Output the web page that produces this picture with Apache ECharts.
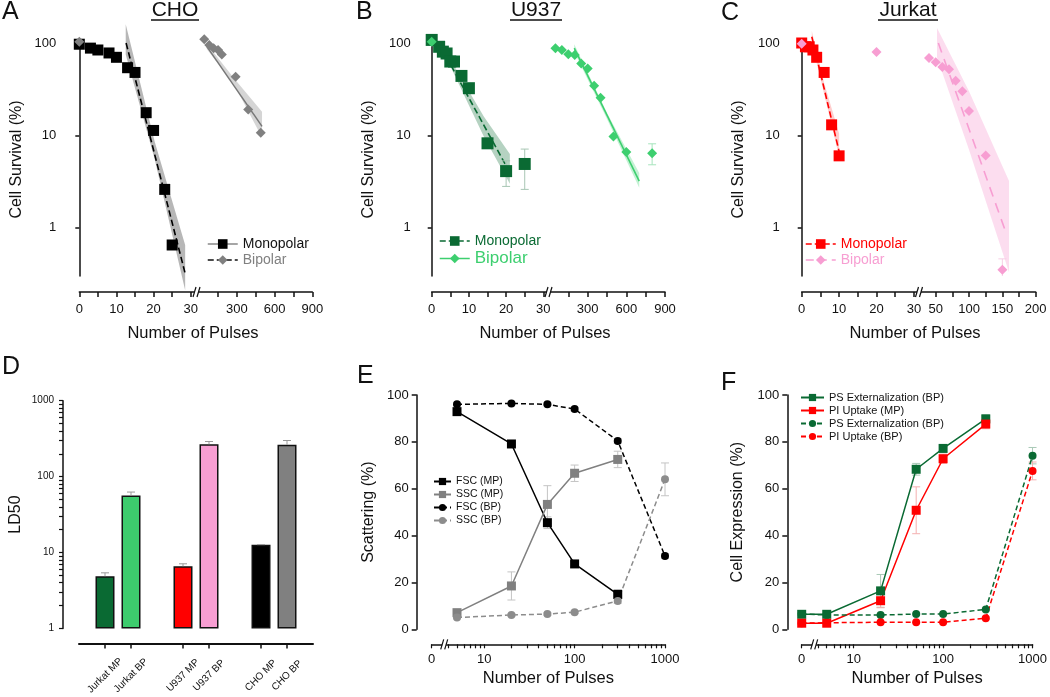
<!DOCTYPE html>
<html><head><meta charset="utf-8">
<script src="https://cdn.jsdelivr.net/npm/echarts@6/dist/echarts.min.js"></script>
<style>html,body{margin:0;padding:0;background:#fff}#c{width:1050px;height:697px}</style>
</head><body><div id="c"></div><script>
const FONT = "'Liberation Sans', Arial, Helvetica, sans-serif";

// ---------- Panel A : CHO ----------
const choMonoX = [0, 3, 5, 8, 10, 13, 15, 18, 20, 23, 25];
const choMonoY = [97, 88, 84, 78, 70, 54, 48, 17.6, 11.3, 2.6, 0.65];
const choBiLowX = [0];
const choBiLowY = [103];
const choBiX = [40, 80, 115, 150, 180, 290, 390, 490];
const choBiY = [110, 95, 88, 84, 75, 43, 19, 10.7];
const choMonoFit = [[12.6, 100], [28.5, 0.32]];
const choMonoBandHi = [[12.5, 160], [20.3, 8.5], [28.5, 0.65]];
const choMonoBandLo = [[12.5, 75], [20.3, 5.5], [28.5, 0.21]];
const choBiFit = [[60, 92], [500, 12.5]];
const choBiBandHi = [[60, 98], [280, 41], [500, 18]];
const choBiBandLo = [[60, 86], [280, 35], [500, 9.5]];

// ---------- Panel B : U937 ----------
const u937MonoX = [0, 2, 3, 4, 5, 6, 8, 10, 15, 20, 25];
const u937MonoY = [108, 91, 80.6, 77, 63, 63, 44, 32.4, 8.2, 4.1, 4.9];
const u937MonoErr = [[20, 2.8, 5.3], [25, 2.6, 7.1]];
const u937BiLowX = [0];
const u937BiLowY = [103];
const u937BiX = [50, 100, 150, 200, 250, 300, 350, 400, 500, 600, 800];
const u937BiY = [87.6, 84, 75.5, 74, 60, 53, 34.5, 25.6, 9.7, 6.6, 6.4];
const u937BiErr = [[800, 4.8, 8.1]];
const u937MonoFit = [[4, 70], [20.5, 4.3]];
const u937MonoBandHi = [[4.5, 72], [14, 16], [21, 6.3]];
const u937MonoBandLo = [[4.5, 62], [14, 9.7], [21, 3.0]];
const u937BiFit = [[196, 88], [700, 3.2]];
const u937BiBandHi = [[196, 97], [450, 17.5], [700, 3.9]];
const u937BiBandLo = [[196, 80], [450, 15], [700, 2.7]];

// ---------- Panel C : Jurkat ----------
const jurMonoX = [0, 1, 2, 3, 4, 6, 8, 10];
const jurMonoY = [100, 91, 91, 84, 70, 48, 13, 6.0];
const jurBiLowX = [0, 20];
const jurBiLowY = [98, 80];
const jurBiX = [40, 50, 60, 70, 80, 90, 100, 125, 150];
const jurBiY = [69, 62, 55, 52, 39, 30, 18.4, 6.05, 0.35];
const jurBiErr = [[150, 0.24, 0.46]];
const jurMonoFit = [[2.7, 117], [10, 6.7]];
const jurMonoBandHi = [[2.7, 135], [6, 37], [10, 10.5]];
const jurMonoBandLo = [[2.7, 100], [6, 28], [10, 5.9]];
const jurBiFit = [[54, 100], [155.5, 0.88]];
const jurBiBandHi = [[52, 145], [100, 30], [160, 3.2]];
const jurBiBandLo = [[52, 70], [100, 7], [160, 0.33]];

// ---------- Panel D : LD50 ----------
const ld50Labels = ['Jurkat MP', 'Jurkat BP', 'U937 MP', 'U937 BP', 'CHO MP', 'CHO BP'];
const ld50Values = [4.87, 56.5, 6.6, 267, 12.7, 262];
const ld50ErrHi = [5.4, 62.6, 7.1, 290, 12.7, 299];
const ld50Colors = ['#0a6a33', '#3dcb6d', '#ff0000', '#f79ed2', '#000000', '#808080'];

// ---------- Panel E : Scattering ----------
const ePulses = [5, 20, 50, 100, 300, 1000];
const fscMP = [92.9, 79.1, 45.5, 27.9, 14.9];
const sscMP = [7.1, 18.5, 53.3, 66.6, 72.5];
const fscBP = [96, 96.4, 96, 94, 80.4, 31.3];
const sscBP = [5, 6.1, 6.5, 7.3, 12.1, 64];
const fscMPErr = [1, 1, 2.5, 1, 2];
const sscMPErr = [1, 6, 8, 3.5, 3.5];
const fscBPErr = [0.5, 0.5, 0.5, 0.8, 1, 1];
const sscBPErr = [0.5, 0.5, 0.5, 0.5, 1, 7];

// ---------- Panel F : Cell expression ----------
const fPulses = [0, 5, 20, 50, 100, 300, 1000];
const psMP = [6.4, 6.4, 16.4, 68.3, 77.2, 89.8];
const piMP = [2.6, 2.6, 12.2, 50.8, 72.8, 87.6];
const psBP = [6.5, 6.1, 6.1, 6.5, 6.5, 8.5, 74.1];
const piBP = [2.6, 2.8, 3, 3, 3, 4.7, 67.6];
const psMPErr = [0.5, 0.5, 7, 2.5, 1.5, 1.8];
const piMPErr = [0.5, 0.5, 3, 10, 2, 2];
const psBPErr = [0.3, 0.3, 0.3, 0.3, 0.3, 0.5, 3.5];
const piBPErr = [0.3, 0.3, 0.3, 0.3, 0.3, 0.5, 3.8];

// tick values
const segLeftTicks = [0, 5, 10, 15, 20, 25, 30];
const segLeftLabels = [0, 10, 20, 30];
const seg900Ticks = [150, 300, 450, 600, 750, 900];
const seg900Labels = [300, 600, 900];
const seg200Ticks = [50, 75, 100, 125, 150, 175, 200];
const seg200Labels = [50, 100, 150, 200];
const survTicks = [1, 10, 100];
const ld50Ticks = [1,2,3,4,5,6,7,8,9,10,20,30,40,50,60,70,80,90,100,200,300,400,500,600,700,800,900,1000];
const ld50TickLabels = [1, 10, 100, 1000];
const ZERO = 2.624; // break position that stands for "0 pulses" on the log axes
const logLabels = [ZERO, 10, 100, 1000];
const logTicks = [ZERO,4,5,6,7,8,9,10,20,30,40,50,60,70,80,90,100,200,300,400,500,600,700,800,900,1000];

// ---------- helpers ----------
const AX = '#111';
const pairs = (xs, ys) => xs.map((x, i) => [x, ys[i]]);
const fx = x => (x === 0 ? ZERO : x);

function pts(name, xi, yi, xs, ys, symbol, size, color) {
  return { type: 'line', name, xAxisIndex: xi, yAxisIndex: yi, data: pairs(xs, ys), symbol, symbolSize: size,
    showSymbol: true, lineStyle: { width: 0 }, itemStyle: { color }, clip: false, z: 5, silent: true };
}
function fit(xi, yi, data, color, type, width) {
  return { type: 'line', xAxisIndex: xi, yAxisIndex: yi, data, symbol: 'none', showSymbol: false,
    lineStyle: { color, type, width }, clip: false, z: 3, silent: true };
}
function band(xi, yi, hi, lo, color) {
  return { type: 'custom', xAxisIndex: xi, yAxisIndex: yi, data: [hi[0]], clip: false, silent: true, z: 1,
    renderItem: (params, api) => {
      const p = hi.map(v => api.coord(v)).concat(lo.slice().reverse().map(v => api.coord(v)));
      return { type: 'polygon', shape: { points: p }, style: { fill: color } };
    } };
}
function errs(xi, yi, rows, color, cap, lowCap, clip) {
  return { type: 'custom', xAxisIndex: xi, yAxisIndex: yi, data: rows, clip: clip, silent: true, z: 4,
    renderItem: (params, api) => {
      const x = api.value(0), lo = api.value(1), hi = api.value(2);
      const a = api.coord([x, lo]), b = api.coord([x, hi]);
      const st = { stroke: color, lineWidth: 1 };
      const ch = [
        { type: 'line', shape: { x1: a[0], y1: a[1], x2: b[0], y2: b[1] }, style: st },
        { type: 'line', shape: { x1: b[0] - cap, y1: b[1], x2: b[0] + cap, y2: b[1] }, style: st }];
      if (lowCap) ch.push({ type: 'line', shape: { x1: a[0] - cap, y1: a[1], x2: a[0] + cap, y2: a[1] }, style: st });
      return { type: 'group', children: ch };
    } };
}
const symErr = (xs, ys, es) => ys.map((y, i) => [fx(xs[i]), y - es[i], y + es[i]]);

// ---------- axes ----------
function segX(grid, min, max, ticks, labels) {
  return { type: 'value', gridIndex: grid, min, max, position: 'bottom', offset: 16,
    axisLine: { show: true, onZero: false, lineStyle: { color: AX, width: 1.5 } },
    axisTick: { show: true, length: 5, customValues: ticks, lineStyle: { color: AX, width: 1.5 } },
    axisLabel: { customValues: labels, margin: 11, fontSize: 13, color: AX, fontFamily: FONT },
    splitLine: { show: false } };
}
function survY(grid, show, offset, gap) {
  return { type: 'log', logBase: 10, gridIndex: grid, min: 0.3, max: 100, show, offset, position: 'left',
    axisLine: { show: true, lineStyle: { color: AX, width: 1.5 } },
    axisTick: { show: true, length: 4, customValues: survTicks, lineStyle: { color: AX, width: 1.5 } },
    axisLabel: { customValues: survTicks, margin: 7, fontSize: 13, color: AX, fontFamily: FONT },
    splitLine: { show: false },
    name: show ? 'Cell Survival (%)' : '', nameLocation: 'middle', nameGap: gap,
    nameTextStyle: { fontSize: 16, color: AX, fontFamily: FONT } };
}
function logX(grid) {
  return { type: 'log', logBase: 10, gridIndex: grid, min: ZERO, max: 1000, position: 'bottom', offset: 15,
    axisLine: { show: true, onZero: false, lineStyle: { color: AX, width: 1.5 } },
    axisTick: { show: true, length: 4, customValues: logTicks, lineStyle: { color: AX, width: 1.2 } },
    axisLabel: { customValues: logLabels, margin: 9, fontSize: 13, color: AX, fontFamily: FONT,
      formatter: v => (v < 5 ? '0' : String(Math.round(v))) },
    splitLine: { show: false },
    name: 'Number of Pulses', nameLocation: 'middle', nameGap: 26,
    nameTextStyle: { fontSize: 16.5, color: AX, fontFamily: FONT } };
}
function pctY(grid, offset, name, gap) {
  return { type: 'value', gridIndex: grid, min: 0, max: 100, interval: 20, position: 'left', offset,
    axisLine: { show: true, lineStyle: { color: AX, width: 1.5 } },
    axisTick: { show: true, length: 5, lineStyle: { color: AX, width: 1.5 } },
    axisLabel: { margin: 8, fontSize: 13, color: AX, fontFamily: FONT },
    splitLine: { show: false },
    name, nameLocation: 'middle', nameGap: gap, nameTextStyle: { fontSize: 16, color: AX, fontFamily: FONT } };
}

const dCats = ['', ld50Labels[0], ld50Labels[1], ' ', ld50Labels[2], ld50Labels[3], '  ', ld50Labels[4], ld50Labels[5], '   '];

const xAxes = [
  segX(0, 0, 30.8, segLeftTicks, segLeftLabels),      // 0 A left
  segX(1, 0, 900, seg900Ticks, seg900Labels),         // 1 A right
  segX(2, 0, 30.8, segLeftTicks, segLeftLabels),      // 2 B left
  segX(3, 0, 900, seg900Ticks, seg900Labels),         // 3 B right
  segX(4, 0, 30.8, segLeftTicks, segLeftLabels),      // 4 C left
  segX(5, 28, 200, seg200Ticks, seg200Labels),        // 5 C right
  { type: 'category', gridIndex: 6, data: dCats, boundaryGap: false, position: 'bottom', offset: 15,
    axisLine: { show: true, onZero: false, lineStyle: { color: AX, width: 2 } },
    axisTick: { show: true, length: 5, interval: (i, v) => v.trim() !== '', lineStyle: { color: AX, width: 1.5 } },
    axisLabel: { interval: 0, rotate: 45, align: 'center', verticalAlign: 'middle', margin: 32, fontSize: 10, color: AX, fontFamily: FONT },
    splitLine: { show: false } },                      // 6 D
  logX(7),                                            // 7 E
  logX(8)                                             // 8 F
];
const yAxes = [
  survY(0, true, 16, 39),   // 0 A
  survY(1, false, 0, 0),    // 1 A right
  survY(2, true, 14, 41),   // 2 B
  survY(3, false, 0, 0),    // 3 B right
  survY(4, true, 15, 40),   // 4 C
  survY(5, false, 0, 0),    // 5 C right
  { type: 'log', logBase: 10, gridIndex: 6, min: 1, max: 1000, position: 'left', offset: 16,
    axisLine: { show: true, lineStyle: { color: AX, width: 1.5 } },
    axisTick: { show: true, length: 4, customValues: ld50Ticks, lineStyle: { color: AX, width: 1.2 } },
    axisLabel: { customValues: ld50TickLabels, margin: 9, fontSize: 10, color: AX, fontFamily: FONT,
      formatter: v => String(Math.round(v)) },
    splitLine: { show: false },
    name: 'LD50', nameLocation: 'middle', nameGap: 39, nameTextStyle: { fontSize: 16, color: AX, fontFamily: FONT } }, // 6 D
  pctY(7, 15, 'Scattering (%)', 40),       // 7 E
  pctY(8, 14.4, 'Cell Expression (%)', 42) // 8 F
];

const grids = [
  { left: 79.3, top: 43, width: 114.4, height: 233 },
  { left: 199.2, top: 43, width: 113.1, height: 233 },
  { left: 431.7, top: 43, width: 114.6, height: 233 },
  { left: 549, top: 43, width: 116, height: 233 },
  { left: 801.7, top: 43, width: 115.2, height: 233 },
  { left: 921, top: 43, width: 114.7, height: 233 },
  { left: 79, top: 400.7, width: 234, height: 228.3 },
  { left: 431.7, top: 395, width: 233.3, height: 234.3 },
  { left: 801.7, top: 395, width: 233.3, height: 234.3 }
];

// ---------- series ----------
const GRAY = '#808080', DKG = '#0a6a33', LTG = '#3dcf6f', RED = '#ff0000', PINK = '#f79ed2';
const S = [];
// A
S.push(band(0, 0, choMonoBandHi, choMonoBandLo, 'rgba(95,95,95,0.45)'));
S.push(band(1, 1, choBiBandHi, choBiBandLo, 'rgba(150,150,150,0.4)'));
S.push(fit(0, 0, choMonoFit, '#000', 'dashed', 1.6));
S.push(fit(1, 1, choBiFit, '#777', 'solid', 1.5));
S.push(pts('A|Monopolar', 0, 0, choMonoX, choMonoY, 'rect', 11, '#000'));
S.push(pts('A|BipolarLow', 0, 0, choBiLowX, choBiLowY, 'diamond', 10, GRAY));
S.push(pts('A|Bipolar', 1, 1, choBiX, choBiY, 'diamond', 10, GRAY));
// B
S.push(band(2, 2, u937MonoBandHi, u937MonoBandLo, 'rgba(10,106,51,0.3)'));
S.push(band(3, 3, u937BiBandHi, u937BiBandLo, 'rgba(61,207,111,0.3)'));
S.push(fit(2, 2, u937MonoFit, DKG, 'dashed', 1.6));
S.push(fit(3, 3, u937BiFit, LTG, 'solid', 1.6));
S.push(errs(2, 2, u937MonoErr, '#a8c6b4', 4, true, true));
S.push(errs(3, 3, u937BiErr, '#a6e4bd', 4, true, true));
S.push(pts('B|Monopolar', 2, 2, u937MonoX, u937MonoY, 'rect', 12, DKG));
S.push(pts('B|BipolarLow', 2, 2, u937BiLowX, u937BiLowY, 'diamond', 10, LTG));
S.push(pts('B|Bipolar', 3, 3, u937BiX, u937BiY, 'diamond', 10, LTG));
// C
S.push(band(4, 4, jurMonoBandHi, jurMonoBandLo, 'rgba(255,90,90,0.3)'));
S.push(band(5, 5, jurBiBandHi, jurBiBandLo, 'rgba(247,158,210,0.35)'));
S.push(fit(4, 4, jurMonoFit, RED, 'dashed', 1.6));
S.push(fit(5, 5, jurBiFit, PINK, [10, 7], 1.6));
S.push(errs(5, 5, jurBiErr, '#f7cfe5', 4, true, true));
S.push(pts('C|Monopolar', 4, 4, jurMonoX, jurMonoY, 'rect', 11, RED));
S.push(pts('C|BipolarLow', 4, 4, jurBiLowX, jurBiLowY, 'diamond', 10, PINK));
S.push(pts('C|Bipolar', 5, 5, jurBiX, jurBiY, 'diamond', 10, PINK));
// D
const ld50Data = dCats.map(c => {
  const k = ld50Labels.indexOf(c);
  return k < 0 ? '-' : { value: ld50Values[k], itemStyle: { color: ld50Colors[k] } };
});
S.push({ type: 'bar', xAxisIndex: 6, yAxisIndex: 6, data: ld50Data, barWidth: 19, silent: true,
  itemStyle: { borderColor: '#111', borderWidth: 1.5 } });
S.push(errs(6, 6, ld50Labels.map((c, k) => [dCats.indexOf(c), ld50Values[k], ld50ErrHi[k]]), '#999', 4, false, false));
// E
const eLine = (name, ys, color, dashed, sym) => ({ type: 'line', name, xAxisIndex: 7, yAxisIndex: 7,
  data: pairs(ePulses.slice(0, ys.length), ys), symbol: sym, symbolSize: sym === 'rect' ? 9 : 8, showSymbol: true,
  lineStyle: { color, width: 1.5, type: dashed ? [5, 3] : 'solid' }, itemStyle: { color }, z: 5, silent: true });
S.push(errs(7, 7, symErr(ePulses, fscMP, fscMPErr), '#c4c4c4', 4, true, false));
S.push(errs(7, 7, symErr(ePulses, sscMP, sscMPErr), '#c4c4c4', 4, true, false));
S.push(errs(7, 7, symErr(ePulses, fscBP, fscBPErr), '#c4c4c4', 4, true, false));
S.push(errs(7, 7, symErr(ePulses, sscBP, sscBPErr), '#c4c4c4', 4, true, false));
S.push(eLine('E1|FSC (MP)', fscMP, '#000', false, 'rect'));
S.push(eLine('E2|SSC (MP)', sscMP, GRAY, false, 'rect'));
S.push(eLine('E3|FSC (BP)', fscBP, '#000', true, 'circle'));
S.push(eLine('E4|SSC (BP)', sscBP, '#8c8c8c', true, 'circle'));
// F
const fLine = (name, ys, color, dashed, sym) => ({ type: 'line', name, xAxisIndex: 8, yAxisIndex: 8,
  data: ys.map((y, i) => [fx(fPulses[i]), y]), symbol: sym, symbolSize: sym === 'rect' ? 9 : 8, showSymbol: true,
  lineStyle: { color, width: 1.5, type: dashed ? [5, 3] : 'solid' }, itemStyle: { color }, z: 5, silent: true });
S.push(errs(8, 8, symErr(fPulses, psMP, psMPErr), '#a9c9b6', 4, true, false));
S.push(errs(8, 8, symErr(fPulses, piMP, piMPErr), '#f4b0b0', 4, true, false));
S.push(errs(8, 8, symErr(fPulses, psBP, psBPErr), '#a9c9b6', 4, true, false));
S.push(errs(8, 8, symErr(fPulses, piBP, piBPErr), '#f4b0b0', 4, true, false));
S.push(fLine('F1|PS Externalization (BP)', psMP, DKG, false, 'rect'));
S.push(fLine('F2|PI Uptake (MP)', piMP, RED, false, 'rect'));
S.push(fLine('F3|PS Externalization (BP)', psBP, DKG, true, 'circle'));
S.push(fLine('F4|PI Uptake (BP)', piBP, RED, true, 'circle'));

// ---------- legends ----------
const fmt = n => n.split('|')[1];
const legBase = { orient: 'vertical', selectedMode: false, formatter: fmt, padding: 0 };
const legends = [
  Object.assign({}, legBase, { left: 207, top: 237, itemWidth: 30, itemHeight: 12, itemGap: 2,
    textStyle: { fontSize: 14, fontFamily: FONT },
    data: [
      { name: 'A|Monopolar', lineStyle: { color: '#888', type: 'solid', width: 1.5 }, textStyle: { color: '#111' } },
      { name: 'A|Bipolar', lineStyle: { color: '#111', type: 'dashed', width: 1.5 }, textStyle: { color: GRAY } }] }),
  Object.assign({}, legBase, { left: 439, top: 234, itemWidth: 30, itemHeight: 12, itemGap: 2,
    textStyle: { fontSize: 14, fontFamily: FONT },
    data: [
      { name: 'B|Monopolar', lineStyle: { color: DKG, type: 'dashed', width: 1.5 }, textStyle: { color: DKG } },
      { name: 'B|Bipolar', lineStyle: { color: LTG, type: 'solid', width: 1.5 }, textStyle: { color: LTG, fontSize: 17 } }] }),
  Object.assign({}, legBase, { left: 805, top: 237, itemWidth: 30, itemHeight: 12, itemGap: 2,
    textStyle: { fontSize: 14, fontFamily: FONT },
    data: [
      { name: 'C|Monopolar', lineStyle: { color: RED, type: 'dashed', width: 1.5 }, textStyle: { color: RED } },
      { name: 'C|Bipolar', lineStyle: { color: PINK, type: [8, 5], width: 1.5 }, textStyle: { color: PINK } }] }),
  Object.assign({}, legBase, { left: 433, top: 476, itemWidth: 17, itemHeight: 9, itemGap: 2,
    textStyle: { fontSize: 10.5, fontFamily: FONT, color: '#111' },
    data: ['E1|FSC (MP)', 'E2|SSC (MP)', 'E3|FSC (BP)', 'E4|SSC (BP)'] }),
  Object.assign({}, legBase, { left: 800, top: 392, itemWidth: 23, itemHeight: 9, itemGap: 2,
    textStyle: { fontSize: 11, fontFamily: FONT, color: '#111' },
    data: ['F1|PS Externalization (BP)', 'F2|PI Uptake (MP)', 'F3|PS Externalization (BP)', 'F4|PI Uptake (BP)'] })
];

// ---------- decorations: letters, titles, breaks ----------
const G = [];
const txt = (x, y, text, size, align) => G.push({ type: 'text', x, y, z: 100,
  style: { text, fontSize: size, fontFamily: FONT, fill: '#111', align: align || 'left', verticalAlign: 'middle' } });
txt(2, 12, 'A', 25); txt(356, 12, 'B', 25); txt(721, 13, 'C', 25);
txt(2, 367, 'D', 25); txt(357, 376, 'E', 25); txt(721, 383, 'F', 25);
txt(175, 10, 'CHO', 21, 'center'); txt(536, 10, 'U937', 21, 'center'); txt(908, 10, 'Jurkat', 21, 'center');
const ul = (x1, x2) => G.push({ type: 'line', z: 100, shape: { x1, y1: 20, x2, y2: 20 }, style: { stroke: '#111', lineWidth: 1.3 } });
ul(151, 199); ul(510, 562); ul(878, 938);
txt(193, 333, 'Number of Pulses', 16.5, 'center');
txt(545, 333, 'Number of Pulses', 16.5, 'center');
txt(915, 333, 'Number of Pulses', 16.5, 'center');
const brk = (xb, y) => {
  G.push({ type: 'rect', z: 100, shape: { x: xb - 2, y: y - 3, width: 4, height: 6 }, style: { fill: '#fff' } });
  G.push({ type: 'line', z: 101, shape: { x1: xb - 3.5, y1: y + 5, x2: xb - 0.5, y2: y - 5 }, style: { stroke: '#111', lineWidth: 1.2 } });
  G.push({ type: 'line', z: 101, shape: { x1: xb + 0.5, y1: y + 5, x2: xb + 3.5, y2: y - 5 }, style: { stroke: '#111', lineWidth: 1.2 } });
};
brk(196.5, 292); brk(548.5, 292); brk(919, 292); brk(444.2, 644.3); brk(814.2, 644.3);

const chart = echarts.init(document.getElementById('c'), null, { renderer: 'canvas' });
chart.setOption({
  animation: false,
  backgroundColor: '#fff',
  textStyle: { fontFamily: FONT },
  grid: grids,
  xAxis: xAxes,
  yAxis: yAxes,
  legend: legends,
  series: S,
  graphic: G
});
</script></body></html>
